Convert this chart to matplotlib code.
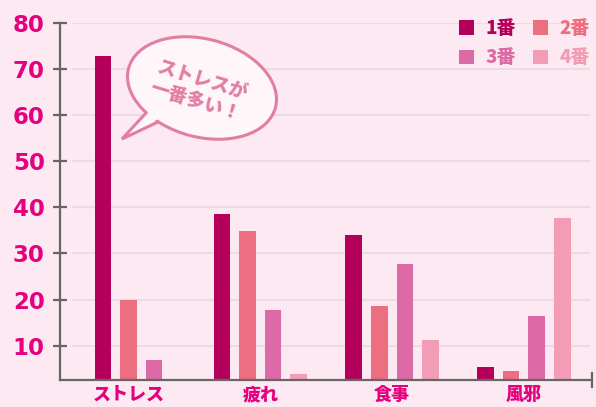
import numpy as np
import matplotlib
matplotlib.use("Agg")
import matplotlib.pyplot as plt
from matplotlib.patches import Ellipse, Polygon, Patch

plt.rcParams['font.family'] = ['Noto Sans CJK JP', 'DejaVu Sans']

# ---- data ----
categories = ["ストレス", "疲れ", "食事", "風邪"]
series_names = ["1番", "2番", "3番", "4番"]
rank1 = [72.9, 38.6, 34.0, 5.4]
rank2 = [20.0, 34.9, 18.6, 4.5]
rank3 = [6.9, 17.8, 27.7, 16.5]
rank4 = [None, 3.9, 11.3, 37.7]
y_ticks = [10, 20, 30, 40, 50, 60, 70, 80]
bubble_text = "ストレスが\n一番多い！"

series = [rank1, rank2, rank3, rank4]
colors = ["#B5005B", "#EC6E80", "#DC6AA6", "#F29DB5"]
bg = "#FCE9F1"
axis_col = "#666666"
label_col = "#E4007F"

W, H = 596, 407
fig = plt.figure(figsize=(W / 100, H / 100), dpi=100, facecolor=bg)
ax = fig.add_axes([60 / W, 1 - 380 / H, 532 / W, 357 / H])
ax.set_facecolor(bg)

# bars
step = 0.1935
width = 0.1267
handles = []
for gi, cat in enumerate(categories):
    vals = [s[gi] for s in series]
    present = [k for k, v in enumerate(vals) if v is not None]
    n = len(present)
    for j, k in enumerate(present):
        x = gi + (j - (n - 1) / 2) * step
        ax.bar(x, vals[k], width=width, color=colors[k], zorder=3)

for k, name in enumerate(series_names):
    handles.append(Patch(facecolor=colors[k], label=name))

# gridlines
for t in y_ticks:
    ax.axhline(t, xmin=0.024, xmax=0.994, color="#EBDCE4", lw=1.5, zorder=1)

ax.set_xlim(-0.5197, 3.5167)
ax.set_ylim(2.55, 80)

for s in ["top", "right"]:
    ax.spines[s].set_visible(False)
for s in ["left", "bottom"]:
    ax.spines[s].set_color(axis_col)
    ax.spines[s].set_linewidth(1.6)
    ax.spines[s].set_zorder(4)

ax.set_yticks(y_ticks)
ax.set_yticklabels([str(t) for t in y_ticks], fontfamily="DejaVu Sans",
                   fontweight="bold", fontsize=16.5, color=label_col)
ax.tick_params(axis="y", direction="inout", length=10, width=1.6,
               color=axis_col, pad=6)
ax.set_xticks(range(len(categories)))
ax.set_xticklabels(categories, fontweight="heavy", fontsize=13, color=label_col)
ax.tick_params(axis="x", length=0, pad=3.5)

# legend (row-wise order)
order = [0, 2, 1, 3]
leg = fig.legend([handles[i] for i in order], [series_names[i] for i in order],
                 ncol=2, loc="upper left", bbox_to_anchor=(459 / W, 1 - 19 / H),
                 frameon=False, handlelength=0.8, handleheight=0.8,
                 handletextpad=0.6, columnspacing=0.95, labelspacing=0.55,
                 borderpad=0, borderaxespad=0, labelcolor="linecolor",
                 prop={"weight": "heavy", "size": 13.5})

# overlay for decorations (pixel coordinates)
ov = fig.add_axes([0, 0, 1, 1], facecolor="none")
ov.set_xlim(0, W)
ov.set_ylim(H, 0)
ov.axis("off")

# end tick on x-axis
ov.plot([592, 592], [373, 387], color=axis_col, lw=1.6)

# speech bubble
edge = "#E17EA4"
fill = "#FFF6FA"
ell = Ellipse((202, 88), 152, 98, angle=15, facecolor=fill, edgecolor=edge, lw=2.2, zorder=5)
ov.add_patch(ell)
b1, tip, b2 = (146, 113), (122, 139), (158, 122)
ov.add_patch(Polygon([(b1[0] + 3, b1[1] - 3), tip, (b2[0] + 2, b2[1] - 4)],
                     closed=True, facecolor=fill, edgecolor="none", zorder=6))
ov.plot([b1[0], tip[0], b2[0]], [b1[1], tip[1], b2[1]], color=edge, lw=2.2,
        zorder=7, solid_joinstyle="miter")
ov.text(199, 91, bubble_text, rotation=-17, ha="center", va="center",
        fontsize=13.5, fontweight="heavy", color=edge, linespacing=1.2,
        rotation_mode="anchor", zorder=8)

fig.savefig("out.png", dpi=100, facecolor=bg)
